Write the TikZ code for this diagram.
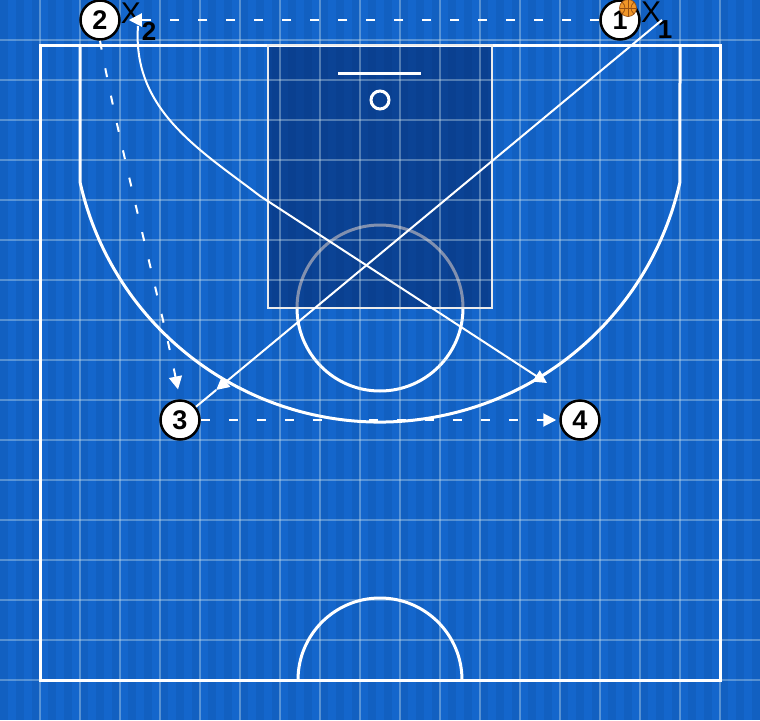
\documentclass[tikz,border=0pt]{standalone}
\usepackage{fontspec}
\setmainfont{Liberation Sans}
\usetikzlibrary{arrows.meta,calc}
\definecolor{bg}{RGB}{20,102,204}
\definecolor{keyc}{RGB}{4,34,96}
\definecolor{gridc}{RGB}{215,235,240}
\definecolor{ballc}{RGB}{240,150,40}
\definecolor{seam}{RGB}{150,80,20}
\begin{document}
\begin{tikzpicture}[x=1pt,y=-1pt,
  player/.style={circle,draw=black,line width=2.5pt,fill=white,minimum size=39pt,inner sep=0pt,font=\fontsize{27}{27}\selectfont\bfseries},
  defx/.style={inner sep=0pt,font=\fontsize{30}{30}\selectfont},
  defsub/.style={inner sep=0pt,font=\fontsize{26}{26}\selectfont\bfseries},
  courtline/.style={white,line width=3pt},
  gridline/.style={gridc,opacity=0.35,line width=1.2pt},
  move/.style={white,line width=2pt},
  pass/.style={white,line width=2pt,dash pattern=on 9pt off 19pt},
  tip/.style={-{Triangle[width=13pt,length=13pt]}}]
\useasboundingbox (0,0) rectangle (760,720);
% background
\fill[bg] (0,0) rectangle (760,720);
\foreach \i in {0,2,...,94} {\fill[black,opacity=0.05] (\i*8,0) rectangle (\i*8+8,720);}
% free-throw circle (under key)
\draw[courtline] (380,308) circle (83);
% key
\fill[keyc,opacity=0.5] (268,45) rectangle (492,308);
% grid
\foreach \x in {40,80,...,720} {\draw[gridline] (\x,0) -- (\x,720);}
\foreach \y in {40,80,...,680} {\draw[gridline] (0,\y) -- (760,\y);}
% court
\draw[courtline] (40,45) rectangle (720,680);
\draw[white!85!gray,line width=2pt] (268,45) rectangle (492,308);
\draw[courtline] (80,45) -- (80,182) arc[start angle=167.32,end angle=12.68,radius=307.5] -- (680,45);
\draw[courtline] (338,73) -- (421,73);
\draw[courtline] (380,100) circle (9);
\draw[courtline] (298,680) arc[start angle=180,end angle=360,radius=82];
% players
\node[player] (p1) at (620,20) {1};
\node[player] (p2) at (100,20) {2};
\node[player] (p3) at (180,420) {3};
\node[player] (p4) at (580,420) {4};
% ball
\fill[ballc] (628,8) circle (8.5);
\draw[seam,line width=0.7pt] (628,8) circle (8.5);
\draw[seam,line width=0.7pt] (619.5,8) -- (636.5,8) (628,-0.5) -- (628,16.5);
\draw[seam,line width=0.7pt] (622,2) .. controls (626,6) and (626,10) .. (622,14);
\draw[seam,line width=0.7pt] (634,2) .. controls (630,6) and (630,10) .. (634,14);
% defenders
\node[defx] (x2) at (131,13) {X};
\node[defsub] (x2s) at (149,31) {2};
\node[defx] (x1) at (651,12) {X};
\node[defsub] (x1s) at (665,30) {1};
\coordinate (x1c) at (662,20);
\coordinate (x2c) at (138,26);
\coordinate (a4) at (547,383);
% actions
\draw[pass,tip,shorten >=8pt] (p1.west) -- (p2.east);
\draw[pass,tip,shorten >=10pt] (p2.south) .. controls (120,150) and (160,300) .. (p3.north);
\draw[pass,tip,shorten >=3pt] (p3.east) -- (p4.west);
\draw[move,tip] (x1c) -- ($(x1c)!0.925!(p3)$);
\draw[move] ($(x1c)!0.925!(p3)$) -- (p3);
\draw[move,tip] (x2c) .. controls (132,110) and (200,150) .. (260,196) -- (a4);
\end{tikzpicture}
\end{document}
